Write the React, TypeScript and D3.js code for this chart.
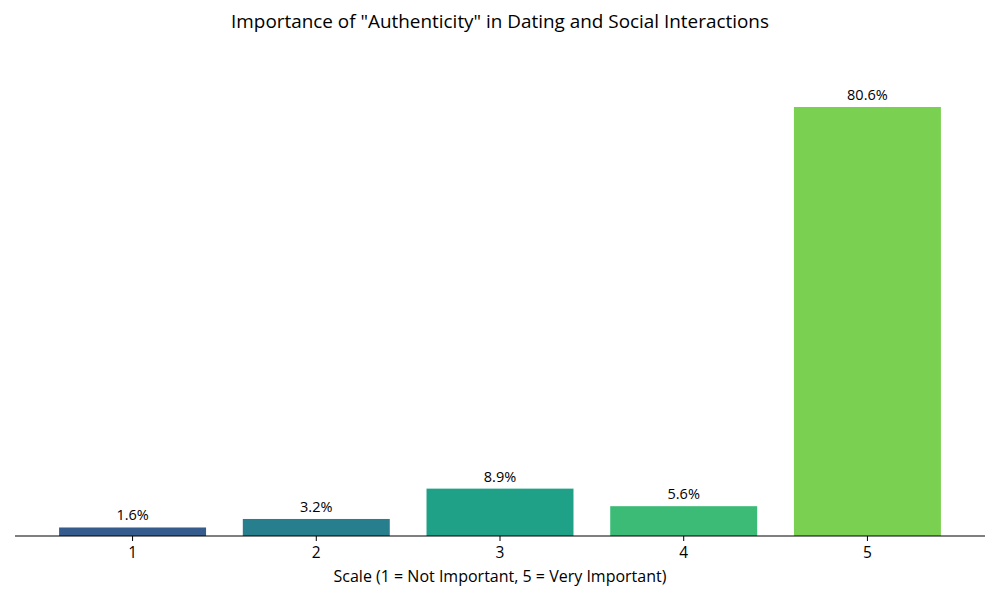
import React from "react";
import * as d3 from "d3";

const categories = ["1", "2", "3", "4", "5"];
const values = [1.6, 3.2, 8.9, 5.6, 80.6];
const colors = ["#365c8d", "#277f8e", "#1fa187", "#3bbb75", "#7ad151"];
const title = 'Importance of "Authenticity" in Dating and Social Interactions';
const xLabel = "Scale (1 = Not Important, 5 = Very Important)";

const W = 1000;
const H = 600;
const FONT = "'Open Sans', Roboto, sans-serif";

export default function App() {
  const left = 15, right = 985, base = 536;
  const x = d3.scaleBand<string>().domain(categories).range([left, right]).paddingInner(0.2).paddingOuter(0.24);
  const y = d3.scaleLinear().domain([0, 80.6]).range([base, 107]);
  return (
    <svg width={W} height={H} style={{ position: "absolute", left: 0, top: 0, background: "#fff" }} fontFamily={FONT}>
      <text x={500} y={28} textAnchor="middle" fontSize={18.9} fill="#000">{title}</text>
      {categories.map((c, i) => (
        <g key={c}>
          <rect x={x(c)!} y={y(values[i])} width={x.bandwidth()} height={base - y(values[i])} fill={colors[i]} />
          <text x={x(c)! + x.bandwidth() / 2} y={y(values[i]) - 7} textAnchor="middle" fontSize={14.5} fill="#000">
            {values[i].toFixed(1)}%
          </text>
          <line x1={x(c)! + x.bandwidth() / 2} x2={x(c)! + x.bandwidth() / 2} y1={base} y2={base + 5} stroke="#000" strokeWidth={1} />
          <text x={x(c)! + x.bandwidth() / 2} y={558} textAnchor="middle" fontSize={15.5} fill="#000">{c}</text>
        </g>
      ))}
      <line x1={left} x2={right} y1={base} y2={base} stroke="#000" strokeWidth={1.2} />
      <text x={500} y={582} textAnchor="middle" fontSize={16} fill="#000">{xLabel}</text>
    </svg>
  );
}
